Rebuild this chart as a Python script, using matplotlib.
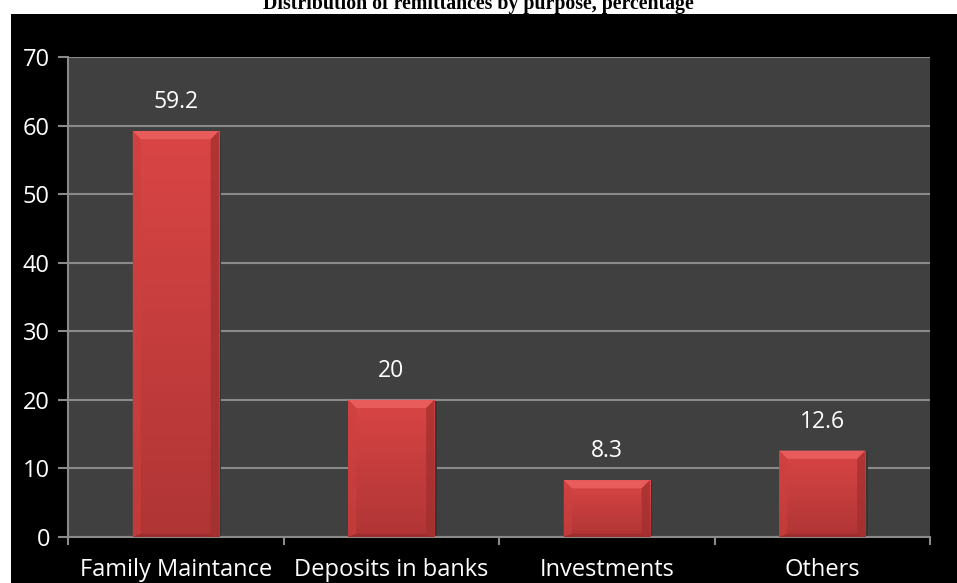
import matplotlib
matplotlib.use("Agg")
import matplotlib.pyplot as plt
import numpy as np
from matplotlib.patches import Rectangle, Polygon
from matplotlib.colors import LinearSegmentedColormap

categories = ["Family Maintance", "Deposits in banks", "Investments", "Others"]
values = [59.2, 20, 8.3, 12.6]
value_labels = ["59.2", "20", "8.3", "12.6"]
yticks = [0, 10, 20, 30, 40, 50, 60, 70]
title = "Distribution of remittances by purpose, percentage"

W, H = 957, 583
fig = plt.figure(figsize=(W / 100, H / 100), dpi=100)
fig.patch.set_facecolor("white")
bg = Rectangle((11 / W, 0), 1 - 11 / W, 1 - 14 / H, transform=fig.transFigure,
               facecolor="black", edgecolor="none", zorder=-10)
fig.add_artist(bg)
fig.text(0.5, 1 - 9 / H, title, ha="center", va="baseline", fontsize=14.3,
         fontweight="bold", family="Liberation Serif", color="black", zorder=5)

ax = fig.add_axes([68 / W, 1 - 537 / H, (930 - 68) / W, (537 - 57) / H])
ax.set_zorder(1)
ax.set_facecolor("#404040")
x = np.arange(len(categories))
ax.set_xlim(-0.5, len(categories) - 0.5)
ax.set_ylim(0, 70)
ax.set_yticks(yticks)
ax.set_yticklabels([str(t) for t in yticks])
ax.yaxis.grid(True, color="#8a8a8a", linewidth=1.5)
ax.set_axisbelow(True)

bars = ax.bar(x, values, width=0.4, color="#d23f3f", edgecolor="none", zorder=3)

grad = np.linspace(0, 1, 256).reshape(-1, 1)
cmap = LinearSegmentedColormap.from_list("bar", ["#b03535", "#da4545"])
bx_bevel = 0.038
by_bevel = 1.2
for b in bars:
    x0, w, h = b.get_x(), b.get_width(), b.get_height()
    ax.add_patch(Rectangle((x0 + w, 0), 0.01, h * 0.99, facecolor="#363636",
                           edgecolor="none", zorder=2.5))
    im = ax.imshow(grad, extent=(x0, x0 + w, 0, h), origin="lower", cmap=cmap,
                   aspect="auto", zorder=3.1)
    im.set_clip_path(b)
    ax.add_patch(Polygon([(x0, h), (x0 + w, h), (x0 + w - bx_bevel, h - by_bevel),
                          (x0 + bx_bevel, h - by_bevel)], closed=True,
                         facecolor="#e85c5c", edgecolor="none", zorder=3.2))
    ax.add_patch(Polygon([(x0, h), (x0 + bx_bevel, h - by_bevel), (x0 + bx_bevel, by_bevel * 0.4),
                          (x0, 0)], closed=True, facecolor="#cc4040", edgecolor="none",
                         alpha=0.6, zorder=3.2))
    ax.add_patch(Polygon([(x0 + w, h), (x0 + w - bx_bevel, h - by_bevel),
                          (x0 + w - bx_bevel, by_bevel * 0.4), (x0 + w, 0)], closed=True,
                         facecolor="#a02e2e", edgecolor="none", alpha=0.7, zorder=3.2))
    ax.add_patch(Polygon([(x0, 0), (x0 + w, 0), (x0 + w - bx_bevel, by_bevel * 0.4),
                          (x0 + bx_bevel, by_bevel * 0.4)], closed=True,
                         facecolor="#982a2a", edgecolor="none", alpha=0.7, zorder=3.2))

for xi, v, lab in zip(x, values, value_labels):
    ax.annotate(lab, (xi, v), xytext=(0, 12), textcoords="offset points", ha="center",
                va="bottom", color="white", fontsize=16.5, family="Open Sans")

ax.set_xticks(x)
ax.set_xticklabels(categories)
ax.set_xticks(np.arange(len(categories) + 1) - 0.5, minor=True)
ax.tick_params(axis="x", which="major", length=0, pad=15, labelsize=17, colors="white")
ax.tick_params(axis="x", which="minor", length=6, width=1.5, color="#8a8a8a", direction="out")
ax.tick_params(axis="y", length=7, width=1.5, color="#8a8a8a", labelsize=17, labelcolor="white", pad=6)
for lab in ax.get_xticklabels() + ax.get_yticklabels():
    lab.set_family("Open Sans")
for s in ["top", "right"]:
    ax.spines[s].set_visible(False)
for s in ["left", "bottom"]:
    ax.spines[s].set_color("#8a8a8a")
    ax.spines[s].set_linewidth(1.5)

fig.savefig("out.png", dpi=100, facecolor=fig.get_facecolor())
